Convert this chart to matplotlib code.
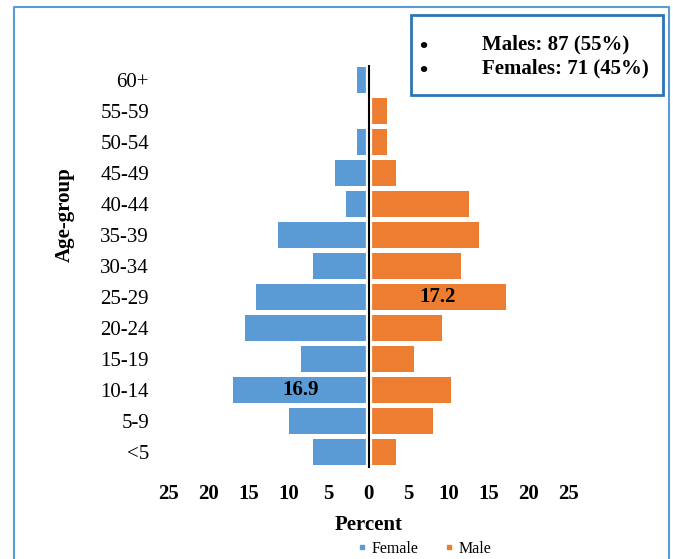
import matplotlib
matplotlib.use("Agg")
import matplotlib.pyplot as plt
from matplotlib.lines import Line2D
from matplotlib.patches import Rectangle

# age groups from youngest to oldest (bottom to top)
age_groups = ['<5', '5-9', '10-14', '15-19', '20-24', '25-29', '30-34',
              '35-39', '40-44', '45-49', '50-54', '55-59', '60+']
female_pct = [7.0, 9.9, 16.9, 8.5, 15.5, 14.1, 7.0, 11.3, 2.8, 4.2, 1.4, 0.0, 1.4]
male_pct = [3.4, 8.0, 10.3, 5.7, 9.2, 17.2, 11.5, 13.8, 12.6, 3.4, 2.3, 2.3, 0.0]
x_ticks = [-25, -20, -15, -10, -5, 0, 5, 10, 15, 20, 25]
summary_lines = ['Males: 87 (55%)', 'Females: 71 (45%)']

FEMALE_COLOR = '#5B9BD5'
MALE_COLOR = '#ED7D31'
W, H = 673, 559

plt.rcParams['font.family'] = ['Liberation Serif', 'DejaVu Serif']

fig = plt.figure(figsize=(W / 100, H / 100), dpi=100)
# axes placed in pixel terms
left_px, right_px, top_px, bottom_px = 168.5, 568.5, 64.5, 467.5
ax = fig.add_axes([left_px / W, 1 - bottom_px / H,
                   (right_px - left_px) / W, (bottom_px - top_px) / H])

ypos = list(range(len(age_groups)))
ax.barh(ypos, [-v for v in female_pct], height=0.87, color=FEMALE_COLOR, label='Female')
ax.barh(ypos, male_pct, height=0.87, color=MALE_COLOR, label='Male')

# zero line with a thin white gap around it
ax.axvline(0, color='white', lw=4.5, zorder=3)
ax.axvline(0, color='black', lw=1.5, zorder=4)

ax.set_xlim(-25, 25)
ax.set_ylim(-0.5, len(age_groups) - 0.5)
ax.set_xticks(x_ticks)
ax.set_xticklabels([str(abs(t)) for t in x_ticks], fontsize=15, fontweight='bold')
ax.set_yticks(ypos)
ax.set_yticklabels(age_groups, fontsize=15)
ax.tick_params(axis='x', length=0, pad=12)
ax.tick_params(axis='y', length=0, pad=14)
for s in ax.spines.values():
    s.set_visible(False)

# value labels on the largest bars
i_f = female_pct.index(max(female_pct))
ax.text(-female_pct[i_f] / 2, i_f, f'{female_pct[i_f]:.1f}', ha='center', va='center',
        fontsize=15, fontweight='bold', zorder=5)
i_m = male_pct.index(max(male_pct))
ax.text(male_pct[i_m] / 2, i_m, f'{male_pct[i_m]:.1f}', ha='center', va='center',
        fontsize=15, fontweight='bold', zorder=5)

fig.text(369 / W, 1 - 525 / H, 'Percent', ha='center', va='center',
         fontsize=15, fontweight='bold')
fig.text(65 / W, 1 - 215 / H, 'Age-group', ha='center', va='center',
         rotation=90, fontsize=15, fontweight='bold')

handles = [Line2D([], [], ls='none', marker='s', ms=3, color=FEMALE_COLOR),
           Line2D([], [], ls='none', marker='s', ms=2.2, color=MALE_COLOR)]
fig.legend(handles, ['Female', 'Male'], loc='center', ncol=2,
           bbox_to_anchor=(424 / W, 1 - 549 / H), frameon=False, fontsize=11.5,
           handlelength=0.6, handletextpad=0.3, columnspacing=1.6,
           borderaxespad=0, borderpad=0)

# summary box in the top right corner
fig.patches.append(Rectangle((411 / W, 1 - 95 / H), (663 - 411) / W, 80 / H,
                             transform=fig.transFigure, fill=False,
                             edgecolor='#2E75B6', lw=2))
for k, line in enumerate(summary_lines):
    y = 1 - (44 + 24 * k) / H
    fig.text(423 / W, y - 3.5 / H, '•', ha='center', va='center',
             fontsize=17, fontweight='bold')
    fig.text(481.5 / W, y, line, ha='left', va='center', fontsize=15, fontweight='bold')

# outer chart border (open at the bottom)
border_x = [14 / W, 14 / W, 669 / W, 669 / W]
border_y = [0, 1 - 7 / H, 1 - 7 / H, 0]
fig.add_artist(Line2D(border_x, border_y, transform=fig.transFigure,
                      color='#5B9BD5', lw=1.5))

fig.savefig('out.png', dpi=100)
